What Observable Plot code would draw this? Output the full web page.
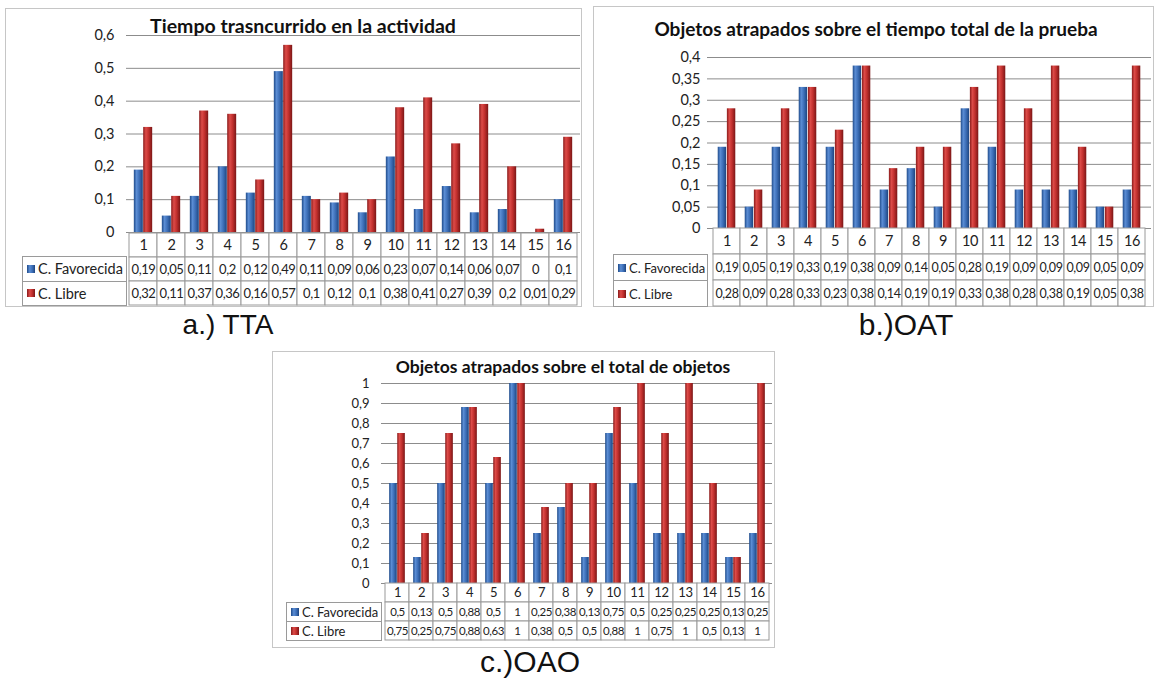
<!DOCTYPE html>
<html><head><meta charset="utf-8">
<script src="https://cdn.jsdelivr.net/npm/d3@7"></script>
<script src="https://cdn.jsdelivr.net/npm/@observablehq/plot@0.6"></script>
<style>
body{margin:0;background:#fff;width:1158px;height:679px;position:relative;overflow:hidden;font-family:Lato,"Open Sans",sans-serif;}
.box{position:absolute;border:1.5px solid #c6c6c6;box-sizing:border-box;}
.title{position:absolute;font-weight:bold;color:#111;white-space:nowrap;transform:translate(-50%,-50%);font-family:Lato,sans-serif;}
.cap{position:absolute;font-family:"Liberation Sans",Arial,sans-serif;color:#111;white-space:nowrap;transform:translate(-50%,-50%);}
.abs{position:absolute;}
.lab{position:absolute;box-sizing:border-box;border:1px solid #9a9a9a;display:flex;align-items:center;padding-left:4px;color:#222;white-space:nowrap;background:#fff;overflow:hidden;}
.sw{display:inline-block;width:8px;height:8px;margin-right:3px;flex:none;}
</style></head>
<body>
<svg width="0" height="0" style="position:absolute">
<defs>
<linearGradient id="gBlue" x1="0" x2="1" y1="0" y2="0">
<stop offset="0" stop-color="#1f4b8a"/><stop offset="0.3" stop-color="#5b8dd4"/><stop offset="0.6" stop-color="#3e70b9"/><stop offset="1" stop-color="#1d4580"/>
</linearGradient>
<linearGradient id="gRed" x1="0" x2="1" y1="0" y2="0">
<stop offset="0" stop-color="#8a1b1b"/><stop offset="0.3" stop-color="#dc4b48"/><stop offset="0.6" stop-color="#c2302e"/><stop offset="1" stop-color="#7a1616"/>
</linearGradient>
</defs></svg>
<script>
// ---- data ----
const categories = ["1","2","3","4","5","6","7","8","9","10","11","12","13","14","15","16"];
const seriesNames = ["C. Favorecida", "C. Libre"];

const ttaTitle = "Tiempo trasncurrido en la actividad";
const ttaCaption = "a.) TTA";
const ttaFav = [0.19,0.05,0.11,0.2,0.12,0.49,0.11,0.09,0.06,0.23,0.07,0.14,0.06,0.07,0,0.1];
const ttaLib = [0.32,0.11,0.37,0.36,0.16,0.57,0.1,0.12,0.1,0.38,0.41,0.27,0.39,0.2,0.01,0.29];
const ttaTicks = [0,0.1,0.2,0.3,0.4,0.5,0.6];

const oatTitle = "Objetos atrapados sobre el tiempo total de la prueba";
const oatCaption = "b.)OAT";
const oatFav = [0.19,0.05,0.19,0.33,0.19,0.38,0.09,0.14,0.05,0.28,0.19,0.09,0.09,0.09,0.05,0.09];
const oatLib = [0.28,0.09,0.28,0.33,0.23,0.38,0.14,0.19,0.19,0.33,0.38,0.28,0.38,0.19,0.05,0.38];
const oatTicks = [0,0.05,0.1,0.15,0.2,0.25,0.3,0.35,0.4];

const oaoTitle = "Objetos atrapados sobre el total de objetos";
const oaoCaption = "c.)OAO";
const oaoFav = [0.5,0.13,0.5,0.88,0.5,1,0.25,0.38,0.13,0.75,0.5,0.25,0.25,0.25,0.13,0.25];
const oaoLib = [0.75,0.25,0.75,0.88,0.63,1,0.38,0.5,0.5,0.88,1,0.75,1,0.5,0.13,1];
const oaoTicks = [0,0.1,0.2,0.3,0.4,0.5,0.6,0.7,0.8,0.9,1];

// ---- layout ----
const fmt = d => String(+(+d).toFixed(2)).replace(".", ",");
const charts = [
  {title: ttaTitle, caption: ttaCaption, fav: ttaFav, lib: ttaLib, ticks: ttaTicks,
   box:{l:5,t:8,r:582,b:307}, plot:{l:126,r:580,t:35,b:232}, table:{t:232,b:305}, labL:22,
   titleXY:[303,25], titleSize:19.5, capXY:[228,325], capSize:28, tickFont:14.5, tickPad:12, tableFont:13, catFont:14.5, labFont:14.5},
  {title: oatTitle, caption: oatCaption, fav: oatFav, lib: oatLib, ticks: oatTicks,
   box:{l:593,t:6,r:1154,b:307}, plot:{l:707,r:1151,t:57,b:228}, table:{t:228,b:306}, labL:613,
   titleXY:[876,28], titleSize:19, capXY:[906,325], capSize:30, tickFont:14.5, tickPad:7, tableFont:12.5, catFont:14.5, labFont:13},
  {title: oaoTitle, caption: oaoCaption, fav: oaoFav, lib: oaoLib, ticks: oaoTicks,
   box:{l:272,t:351,r:775,b:648}, plot:{l:381,r:772,t:383,b:583}, table:{t:583,b:640}, labL:286,
   titleXY:[563,366], titleSize:17.5, capXY:[530,662], capSize:30, tickFont:13, tickPad:12, tableFont:11.5, catFont:13, labFont:13}
];

function place(el, l, t){ const d = document.createElement("div"); d.className="abs"; d.style.left=l+"px"; d.style.top=t+"px"; d.appendChild(el); document.body.appendChild(d); }

for (const c of charts) {
  const box = document.createElement("div"); box.className="box";
  Object.assign(box.style,{left:c.box.l+"px",top:c.box.t+"px",width:(c.box.r-c.box.l)+"px",height:(c.box.b-c.box.t)+"px"});
  document.body.appendChild(box);

  const ml = 60;
  const svgLeft = c.plot.l - ml;
  const W = c.plot.r - svgLeft;
  const bw = (c.plot.r - c.plot.l) / categories.length;
  const side = bw * 0.17, half = bw / 2;
  const favData = categories.map((k,i)=>({cat:k, v:c.fav[i]}));
  const libData = categories.map((k,i)=>({cat:k, v:c.lib[i]}));
  const ymax = c.ticks[c.ticks.length-1];
  const mt = 20;
  const chart = Plot.plot({
    width: W, height: c.plot.b - c.plot.t + mt + 1, marginLeft: ml, marginRight: 0, marginTop: mt, marginBottom: 1,
    style: {background:"transparent", fontFamily:"Lato, sans-serif", fontSize: c.tickFont+"px", color:"#222", overflow:"visible"},
    x: {domain: categories, padding: 0, axis: null},
    y: {domain: [0, ymax], axis: null},
    marks: [
      Plot.ruleY(c.ticks, {stroke:"#8c8c8c", strokeWidth:1}),
      Plot.axisY({ticks: c.ticks, tickSize: 0, tickPadding: c.tickPad, tickFormat: fmt, fontSize: c.tickFont, fill:"#222", line: true, stroke:"#8c8c8c", label: null}),
      Plot.barY(favData, {x:"cat", y:"v", fill:"url(#gBlue)", insetLeft: side, insetRight: half}),
      Plot.barY(libData, {x:"cat", y:"v", fill:"url(#gRed)", insetLeft: half, insetRight: side})
    ]
  });
  place(chart, svgLeft, c.plot.t - mt);

  const tH = c.table.b - c.table.t;
  const tdata = categories.flatMap((k,i)=>[
    {cat:k,row:"cat",t:k},
    {cat:k,row:"fav",t:fmt(c.fav[i])},
    {cat:k,row:"lib",t:fmt(c.lib[i])}
  ]);
  const table = Plot.plot({
    width: W, height: tH + 2, marginLeft: ml, marginRight: 0, marginTop: 1, marginBottom: 1,
    style: {background:"transparent", fontFamily:"Lato, sans-serif", color:"#222", overflow:"visible", letterSpacing:"-0.4px"},
    x: {domain: categories, padding: 0, axis: null},
    y: {domain: ["cat","fav","lib"], padding: 0, axis: null},
    marks: [
      Plot.cell(tdata, {x:"cat", y:"row", fill:"white", stroke:"#9a9a9a", inset:0}),
      Plot.text(tdata.filter(d=>d.row==="cat"), {x:"cat", y:"row", text:"t", fontSize:c.catFont, fill:"#222"}),
      Plot.text(tdata.filter(d=>d.row!=="cat"), {x:"cat", y:"row", text:"t", fontSize:c.tableFont, fill:"#222"})
    ]
  });
  place(table, svgLeft, c.table.t - 1);

  const rh = tH / 3;
  const grads = ["linear-gradient(90deg,#1f4b8a,#5b8dd4 35%,#3e70b9 65%,#1d4580)","linear-gradient(90deg,#8a1b1b,#dc4b48 35%,#c2302e 65%,#7a1616)"];
  seriesNames.forEach((name, j) => {
    const lab = document.createElement("div"); lab.className="lab";
    Object.assign(lab.style,{left:c.labL+"px", top:(c.table.t + rh*(j+1))+"px", width:(c.plot.l - c.labL + 1)+"px", height:(rh+1)+"px", fontSize:c.labFont+"px"});
    const sw = document.createElement("span"); sw.className="sw"; sw.style.background = grads[j];
    lab.appendChild(sw); lab.appendChild(document.createTextNode(name));
    document.body.appendChild(lab);
  });

  const t = document.createElement("div"); t.className="title"; t.textContent=c.title;
  Object.assign(t.style,{left:c.titleXY[0]+"px", top:c.titleXY[1]+"px", fontSize:c.titleSize+"px"});
  document.body.appendChild(t);
  const cp = document.createElement("div"); cp.className="cap"; cp.textContent=c.caption;
  Object.assign(cp.style,{left:c.capXY[0]+"px", top:c.capXY[1]+"px", fontSize:c.capSize+"px"});
  document.body.appendChild(cp);
}
</script>
</body></html>
